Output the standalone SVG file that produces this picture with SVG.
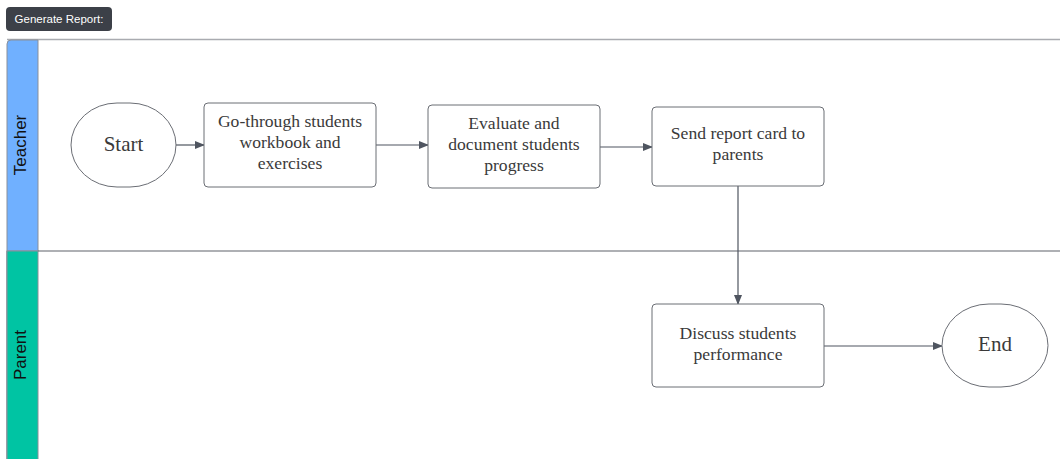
<svg xmlns="http://www.w3.org/2000/svg" width="1060" height="459" viewBox="0 0 1060 459">
<style>
.node{fill:#fff;stroke:#6b6e75;stroke-width:1}
.t{font-family:"Liberation Serif",serif;font-size:17.6px;fill:#3a3a3a;text-anchor:middle}
.big{font-size:21px}
.lane{font-family:"Liberation Sans",Arial,sans-serif;font-size:17px;fill:#111;text-anchor:middle}
.c{stroke:#4f5560;stroke-width:1.2;fill:none;marker-end:url(#ah)}
</style>
<defs>
<marker id="ah" markerWidth="10" markerHeight="8" refX="9" refY="4" orient="auto" markerUnits="userSpaceOnUse">
<path d="M0,0 L10,4 L0,8 Z" fill="#4f5560"/>
</marker>
</defs>
<rect width="1060" height="459" fill="#fff"/>
<g id="badge">
<rect x="6" y="7" width="106" height="24" rx="4" fill="#3c4048"/>
<text x="59" y="23" font-family="Liberation Sans,Arial,sans-serif" font-size="11.5" fill="#fff" text-anchor="middle">Generate Report:</text>
</g>
<g id="pool">
<line x1="7" y1="39.5" x2="1060" y2="39.5" stroke="#a9abb0" stroke-width="1.5"/>
<path d="M7,459 V44 Q7,40 11,40 H38 V251 H7 Z" fill="#70b0ff" stroke="#8a8f99" stroke-width="1"/>
<rect x="7" y="251" width="31" height="210" fill="#00c4a3" stroke="#8a8f99" stroke-width="1"/>
<line x1="38" y1="251" x2="1060" y2="251" stroke="#5e626a" stroke-width="1.2"/>
<text class="lane" transform="translate(26,145) rotate(-90)">Teacher</text>
<text class="lane" transform="translate(26,355) rotate(-90)">Parent</text>
</g>
<g id="connectors">
<line class="c" x1="176" y1="145" x2="204" y2="145"/>
<line class="c" x1="376" y1="145" x2="428" y2="145"/>
<line class="c" x1="600" y1="147" x2="652" y2="147"/>
<line class="c" x1="738" y1="186" x2="738" y2="304"/>
<line class="c" x1="824" y1="346" x2="942" y2="346"/>
</g>
<g id="start">
<rect class="node" x="71" y="103" width="105" height="84" rx="46" ry="42"/>
<text class="t big" x="123.5" y="151">Start</text>
</g>
<g id="n1">
<rect class="node" x="204" y="103" width="172" height="84" rx="4"/>
<text class="t" x="290" y="127">Go-through students</text>
<text class="t" x="290" y="148">workbook and</text>
<text class="t" x="290" y="169">exercises</text>
</g>
<g id="n2">
<rect class="node" x="428" y="105" width="172" height="83" rx="4"/>
<text class="t" x="514" y="129">Evaluate and</text>
<text class="t" x="514" y="150">document students</text>
<text class="t" x="514" y="171">progress</text>
</g>
<g id="n3">
<rect class="node" x="652" y="107" width="172" height="79" rx="4"/>
<text class="t" x="738" y="139">Send report card to</text>
<text class="t" x="738" y="160">parents</text>
</g>
<g id="n4">
<rect class="node" x="652" y="304" width="172" height="83" rx="4"/>
<text class="t" x="738" y="339">Discuss students</text>
<text class="t" x="738" y="360">performance</text>
</g>
<g id="end">
<rect class="node" x="942" y="304" width="106" height="83" rx="47" ry="41.5"/>
<text class="t big" x="995" y="351">End</text>
</g>
</svg>
